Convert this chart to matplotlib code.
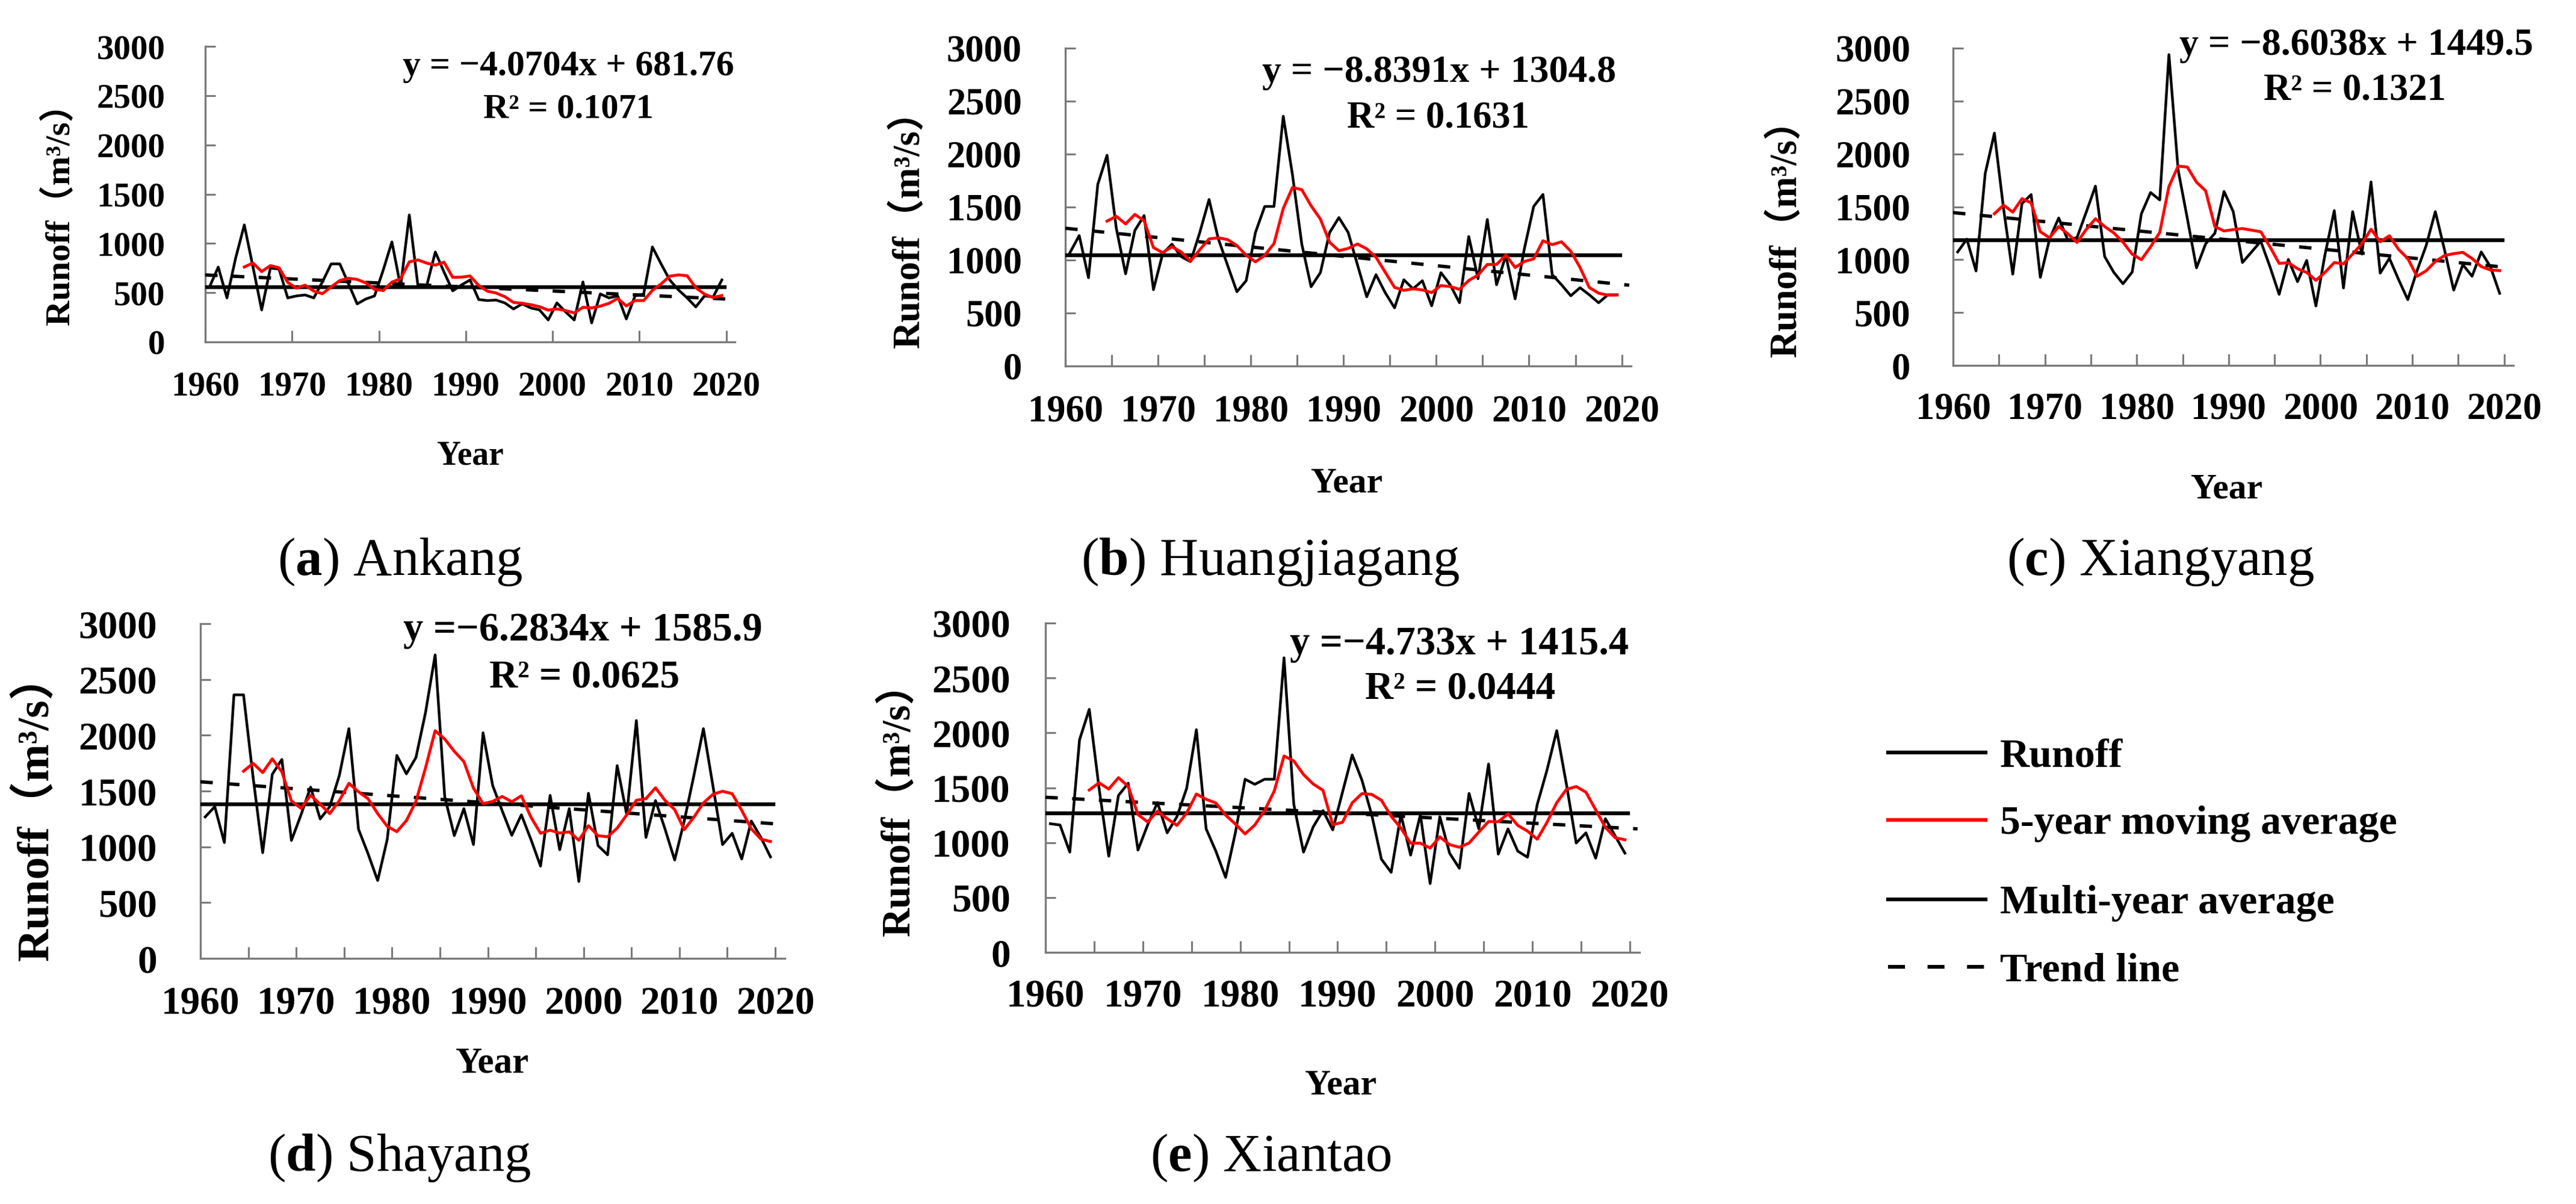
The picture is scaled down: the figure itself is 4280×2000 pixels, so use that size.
import numpy as np
import pandas as pd
import matplotlib
matplotlib.use('Agg')
import matplotlib.pyplot as plt
from matplotlib.lines import Line2D

# ---------------- data ----------------
years = np.arange(1960, 2020)

ankang = [560, 760, 447, 850, 1188, 760, 325, 750, 740, 447,
          467, 477, 447, 610, 792, 792, 590, 386, 436, 467,
          730, 1015, 560, 1289, 568, 568, 913, 710, 518, 578,
          629, 430, 420, 425, 396, 335, 386, 345, 325, 223,
          396, 305, 223, 609, 193, 487, 447, 467, 233, 467,
          487, 964, 792, 629, 528, 447, 355, 467, 457, 629]

huangjiagang = [1070, 1231, 833, 1714, 1989, 1300, 870, 1280, 1420, 720,
                1060, 1150, 1032, 985, 1260, 1572, 1200, 950, 701, 805,
                1260, 1506, 1506, 2358, 1800, 1150, 748, 881, 1260, 1401,
                1260, 956, 653, 862, 691, 549, 814, 729, 805, 568,
                881, 767, 597, 1222, 824, 1383, 767, 1042, 634, 1108,
                1506, 1619, 862, 767, 663, 739, 672, 597, 672, 672]

xiangyang = [1073, 1194, 893, 1815, 2197, 1480, 863, 1530, 1615, 833,
             1194, 1394, 1184, 1210, 1450, 1695, 1030, 880, 772, 883,
             1434, 1635, 1565, 2939, 1850, 1390, 923, 1150, 1250, 1645,
             1454, 973, 1073, 1174, 933, 672, 1003, 792, 993, 562,
             1053, 1464, 732, 1454, 1053, 1735, 873, 1013, 812, 622,
             893, 1133, 1454, 1093, 712, 953, 843, 1073, 933, 682]

shayang = [1268, 1360, 1038, 2362, 2362, 1620, 947, 1650, 1783, 1057,
           1287, 1535, 1250, 1360, 1640, 2059, 1158, 937, 698, 1066,
           1820, 1654, 1801, 2206, 2720, 1450, 1100, 1342, 1020, 2022,
           1550, 1323, 1103, 1287, 1066, 827, 1461, 974, 1342, 689,
           1480, 1011, 928, 1728, 1287, 2132, 1084, 1415, 1158, 882,
           1231, 1636, 2059, 1544, 1020, 1121, 891, 1231, 1084, 910]

xiantao = [1172, 1160, 913, 1937, 2214, 1500, 876, 1430, 1541, 932,
           1162, 1365, 1089, 1236, 1494, 2029, 1125, 922, 683, 1089,
           1577, 1531, 1577, 1577, 2684, 1350, 913, 1144, 1292, 1116,
           1458, 1799, 1568, 1255, 849, 729, 1255, 886, 1255, 627,
           1236, 904, 766, 1448, 1125, 1716, 895, 1125, 922, 867,
           1347, 1660, 2020, 1531, 996, 1089, 858, 1218, 1061, 904]

series = [ankang, huangjiagang, xiangyang, shayang, xiantao]
stations = ['Ankang', 'Huangjiagang', 'Xiangyang', 'Shayang', 'Xiantao']
letters = ['a', 'b', 'c', 'd', 'e']
slopes = [-4.0704, -8.8391, -8.6038, -6.2834, -4.733]
intercepts = [681.76, 1304.8, 1449.5, 1585.9, 1415.4]
eq_texts = ['y = −4.0704x + 681.76', 'y = −8.8391x + 1304.8',
            'y = −8.6038x + 1449.5', 'y =−6.2834x + 1585.9',
            'y =−4.733x + 1415.4']
r2_texts = ['R² = 0.1071', 'R² = 0.1631', 'R² = 0.1321',
            'R² = 0.0625', 'R² = 0.0444']
yticks = [0, 500, 1000, 1500, 2000, 2500, 3000]
xticks = [1960, 1970, 1980, 1990, 2000, 2010, 2020]
legend_labels = ['Runoff', '5-year moving average', 'Multi-year average', 'Trend line']
ylabel_text = 'Runoff（m³/s）'
xlabel_text = 'Year'

# ---------------- style ----------------
plt.rcParams['font.family'] = ['Liberation Serif', 'Noto Sans CJK SC', 'DejaVu Sans']
plt.rcParams['mathtext.fontset'] = 'custom'
plt.rcParams['mathtext.rm'] = 'Liberation Serif'
plt.rcParams['mathtext.bf'] = 'Liberation Serif:bold'

W, H = 4280, 2000
fig = plt.figure(figsize=(W / 100, H / 100), dpi=100)
fig.patch.set_facecolor('white')

def fx(x):
    return x / W

def fy(y):
    return 1 - y / H

SPINE = '#7a7a7a'

# per-panel layout (pixel boxes: left, right, top, bottom)
layout = [
    dict(box=(341, 1221, 77, 568), tick=41, ylab=42, xlab=40, eq=43,
         ypad=48, xpad=35, minor=False, eqpos=(2001.8, 2707), r2pos=(2001.8, 2279),
         ylabpos=(98, 341), xlabpos=(781, 772), cap=(665, 955)),
    dict(box=(1770, 2710, 80, 608), tick=45, ylab=45, xlab=43, eq=46,
         ypad=52, xpad=34, minor=True, eqpos=(2000.3, 2682), r2pos=(2000.2, 2250),
         ylabpos=(1512, 365), xlabpos=(2238, 817), cap=(2111, 955)),
    dict(box=(3245, 4176, 80, 607), tick=45, ylab=45, xlab=43, eq=46,
         ypad=51, xpad=32, minor=True, eqpos=(2003.9, 2937), r2pos=(2003.7, 2516),
         ylabpos=(2969, 380), xlabpos=(3700, 827), cap=(3590, 955)),
    dict(box=(333, 1304, 1036, 1592), tick=47, ylab=54, xlab=44, eq=48,
         ypad=52, xpad=33, minor=True, eqpos=(1999.9, 2849), r2pos=(2000.1, 2433),
         ylabpos=(60, 1341), xlabpos=(818, 1782), cap=(664, 1945)),
    dict(box=(1737, 2724, 1035, 1582), tick=47, ylab=48, xlab=43, eq=48,
         ypad=42, xpad=31, minor=True, eqpos=(2002.5, 2715), r2pos=(2002.6, 2314),
         ylabpos=(1493, 1328), xlabpos=(2228, 1817), cap=(2111, 1945)),
]

xpos = years + 0.5

for k in range(5):
    L = layout[k]
    l, r, t, b = L['box']
    ax = fig.add_axes([fx(l), fy(b), fx(r) - fx(l), (b - t) / H])
    vals = np.array(series[k], dtype=float)
    ma5 = pd.Series(vals).rolling(5).mean().values
    mean_val = vals.mean()

    ax.plot(xpos, vals, color='black', lw=3.2, zorder=2)
    ax.plot([1960, 2019.8], [mean_val, mean_val], color='black', lw=4.6, zorder=3)
    tx = np.array([1960, 2020.8])
    ty = intercepts[k] + slopes[k] * (tx - 1959.5)
    ax.plot(tx, ty, color='black', lw=4.0, dashes=(3.7, 4.3), zorder=3)
    ax.plot(xpos, ma5, color='#ff0000', lw=3.5, zorder=4)

    ax.set_xlim(1960, 2021)
    ax.set_ylim(0, 3000)
    ax.set_yticks(yticks)
    ax.set_xticks(xticks)
    if L['minor']:
        ax.set_xticks([1965, 1975, 1985, 1995, 2005, 2015], minor=True)
    for s in ['top', 'right']:
        ax.spines[s].set_visible(False)
    for s in ['left', 'bottom']:
        ax.spines[s].set_color(SPINE)
        ax.spines[s].set_linewidth(2.4)
    ax.tick_params(axis='x', which='both', direction='in', length=14, width=2.2,
                   color=SPINE, pad=L['xpad'], labelsize=L['tick'])
    ax.tick_params(axis='y', which='both', direction='in', length=12, width=2.2,
                   color=SPINE, pad=L['ypad'], labelsize=L['tick'])
    for lab in ax.get_xticklabels() + ax.get_yticklabels():
        lab.set_fontweight('bold')
        lab.set_fontfamily(['Liberation Serif'])
    ax.patch.set_alpha(0)

    ax.text(*L['eqpos'], eq_texts[k], ha='center', va='baseline',
            fontsize=L['eq'], fontweight='bold', family=['Liberation Serif'])
    ax.text(*L['r2pos'], r2_texts[k], ha='center', va='baseline',
            fontsize=L['eq'] - 1, fontweight='bold', family=['Liberation Serif'])

    fig.text(fx(L['ylabpos'][0]), fy(L['ylabpos'][1]), ylabel_text, rotation=90,
             ha='center', va='center', fontsize=L['ylab'], fontweight='bold',
             family=['Liberation Serif', 'Noto Sans CJK SC'])
    fig.text(fx(L['xlabpos'][0]), fy(L['xlabpos'][1]), xlabel_text, ha='center',
             va='baseline', fontsize=L['xlab'], fontweight='bold',
             family=['Liberation Serif'])
    fig.text(fx(L['cap'][0]), fy(L['cap'][1]),
             '($\\mathbf{' + letters[k] + '}$) ' + stations[k],
             ha='center', va='baseline', fontsize=64, family=['Liberation Serif'])

# ---------------- legend ----------------
leg_y = [1250, 1362, 1494, 1606]
leg_styles = [dict(color='black', lw=4.5),
              dict(color='#ff0000', lw=4.5),
              dict(color='black', lw=4.5),
              dict(color='black', lw=4.5, dashes=(4.5, 6.0))]
for yy, lab, st in zip(leg_y, legend_labels, leg_styles):
    fig.add_artist(Line2D([fx(3137), fx(3299)], [fy(yy), fy(yy)],
                          transform=fig.transFigure, **st))
    fig.text(fx(3323), fy(yy + 23), lab, ha='left', va='baseline',
             fontsize=49, fontweight='bold', family=['Liberation Serif'])

fig.savefig('out.png', dpi=100, facecolor='white')
